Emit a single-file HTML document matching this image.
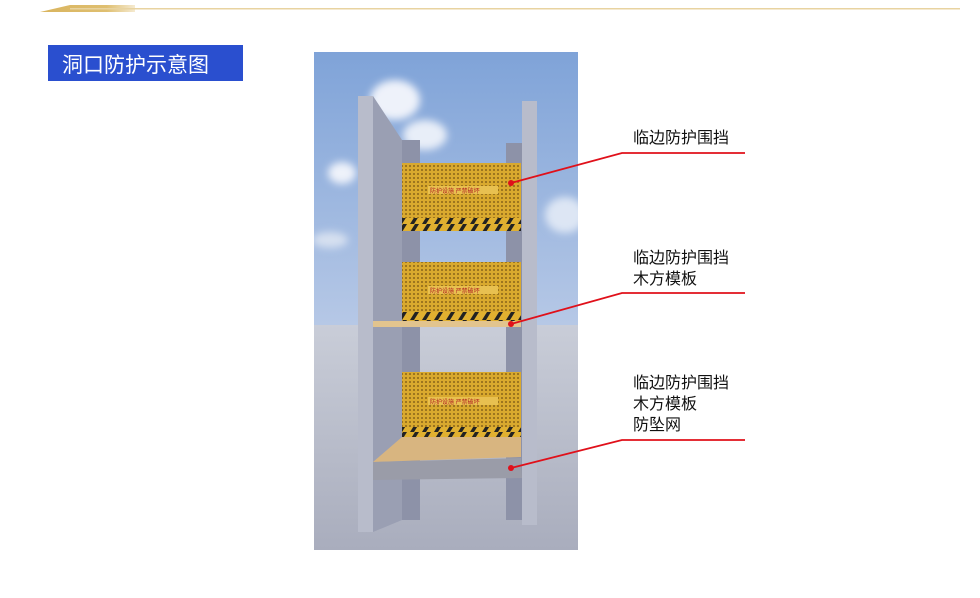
<!DOCTYPE html>
<html><head><meta charset="utf-8"><style>
body{margin:0;width:980px;height:598px;background:#fff;position:relative;overflow:hidden;font-family:"Liberation Sans","Noto Sans CJK SC",sans-serif}
.t{position:absolute;font-size:16px;color:#111;line-height:21px;left:633px}
</style></head><body>
<svg width="980" height="598" style="position:absolute;left:0;top:0">
<defs>
<linearGradient id="gold" x1="0" x2="1"><stop offset="0" stop-color="#d9b45e"/><stop offset="0.7" stop-color="#dfbf70"/><stop offset="1" stop-color="#f5ead0"/></linearGradient>
<linearGradient id="sky" x1="0" y1="0" x2="0" y2="1"><stop offset="0" stop-color="#7fa3d8"/><stop offset="1" stop-color="#b6c8e6"/></linearGradient>
<linearGradient id="gr" x1="0" y1="0" x2="0" y2="1"><stop offset="0" stop-color="#c9cdd8"/><stop offset="1" stop-color="#a9adbd"/></linearGradient>
<pattern id="mesh" width="4" height="4" patternUnits="userSpaceOnUse"><rect width="4" height="4" fill="#d9a92e"/><circle cx="2" cy="2" r="1" fill="#8a6418"/></pattern>
<pattern id="haz" width="12" height="8" patternUnits="userSpaceOnUse"><rect width="12" height="8" fill="#e0b030"/><polygon points="2,8 7,0 11,0 6,8" fill="#222"/></pattern>
<clipPath id="c"><rect x="314" y="52" width="264" height="498"/></clipPath>
<filter id="b"><feGaussianBlur stdDeviation="4"/></filter>
</defs>
<polygon points="40,12 70,5 135,5 135,12" fill="url(#gold)"/>
<rect x="70" y="8" width="890" height="1.5" fill="#e8d3a0"/>
<rect x="48" y="45" width="195" height="36" fill="#2a4fcf"/>
<text x="62" y="72" font-size="21" fill="#fff" font-family="Liberation Sans,Noto Sans CJK SC,sans-serif">洞口防护示意图</text>
<g clip-path="url(#c)">
<rect x="314" y="52" width="264" height="273" fill="url(#sky)"/>
<g filter="url(#b)">
<ellipse cx="395" cy="100" rx="25" ry="20" fill="#eef2fa"/><ellipse cx="425" cy="135" rx="22" ry="15" fill="#e8eef8"/>
<ellipse cx="342" cy="173" rx="14" ry="11" fill="#eef2fa"/><ellipse cx="565" cy="215" rx="20" ry="18" fill="#dde6f4"/>
<ellipse cx="330" cy="240" rx="18" ry="8" fill="#d6e0f0"/></g>
<rect x="314" y="325" width="264" height="225" fill="url(#gr)"/>
</g>
<rect x="402" y="140" width="18" height="380" fill="#8d92a8"/>
<rect x="506" y="143" width="16" height="377" fill="#8d92a8"/>
<polygon points="373,96 402,140 402,520 373,532" fill="#9a9fb3"/>
<rect x="358" y="96" width="15" height="436" fill="#b8bccb"/>
<rect x="522" y="101" width="15" height="424" fill="#b8bccb"/>
<rect x="402" y="163" width="119" height="55" fill="url(#mesh)"/><rect x="402" y="218" width="119" height="13" fill="url(#haz)"/>
<rect x="428" y="186" width="70" height="8" fill="#e8c050"/><text x="430" y="193" font-size="6" fill="#b02020">防护设施 严禁破坏</text>
<rect x="402" y="262" width="119" height="50" fill="url(#mesh)"/><rect x="402" y="312" width="119" height="10" fill="url(#haz)"/>
<rect x="428" y="286" width="70" height="8" fill="#e8c050"/><text x="430" y="293" font-size="6" fill="#b02020">防护设施 严禁破坏</text>
<rect x="373" y="321" width="148" height="6" fill="#e2c48e"/>
<rect x="402" y="372" width="119" height="55" fill="url(#mesh)"/><rect x="402" y="427" width="119" height="10" fill="url(#haz)"/>
<rect x="428" y="397" width="70" height="8" fill="#e8c050"/><text x="430" y="404" font-size="6" fill="#b02020">防护设施 严禁破坏</text>
<polygon points="402,437 521,437 521,457 373,462" fill="#d8b580"/>
<polygon points="373,462 521,458 522,478 373,480" fill="#9a9ca8"/>
<g stroke="#e0101a" stroke-width="1.8" fill="none">
<polyline points="511,183 622,153 745,153"/><polyline points="511,324 622,293 745,293"/><polyline points="511,468 622,440 745,440"/>
</g>
<g fill="#e0101a"><circle cx="511" cy="183" r="3"/><circle cx="511" cy="324" r="3"/><circle cx="511" cy="468" r="3"/></g>
</svg>
<div class="t" style="top:128px">临边防护围挡</div>
<div class="t" style="top:248px">临边防护围挡<br>木方模板</div>
<div class="t" style="top:373px">临边防护围挡<br>木方模板<br>防坠网</div>
</body></html>
